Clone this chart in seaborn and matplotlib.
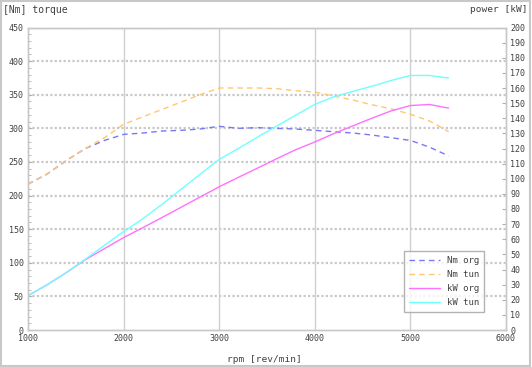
import numpy as np
import pandas as pd
import matplotlib
matplotlib.use("Agg")
import matplotlib.pyplot as plt
import seaborn as sns
from matplotlib.ticker import MultipleLocator

# Data (every 200 rpm)
rpm = [1000, 1200, 1400, 1600, 1800, 2000, 2200, 2400, 2600, 2800, 3000, 3200,
       3400, 3600, 3800, 4000, 4200, 4400, 4600, 4800, 5000, 5200, 5400]
nm_org = [217, 232, 252, 270, 282, 291, 293, 296, 297, 299, 303, 300,
          301, 300, 299, 297, 295, 293, 290, 286, 282, 272, 259]
nm_tun = [217, 232, 252, 270, 286, 306, 317, 328, 339, 350, 360, 360,
          360, 359, 356, 354, 348, 342, 335, 329, 321, 311, 295]
kw_org = [22.7, 29.9, 37.9, 46.5, 53.8, 61.1, 67.6, 74.3, 81.1, 87.9, 94.7, 100.9,
          107.0, 113.2, 119.2, 124.3, 129.9, 135.0, 140.1, 144.9, 148.4, 149.1, 146.7]
kw_tun = [22.7, 29.9, 38.0, 46.8, 56.0, 65.1, 73.5, 83.0, 93.0, 103.0, 112.8, 120.0,
          127.5, 134.8, 142.0, 149.2, 154.2, 157.8, 161.2, 165.0, 168.3, 168.3, 166.6]

labels = ["Nm org", "Nm tun", "kW org", "kW tun"]
colors = ["#7878f8", "#ffc870", "#ff70ff", "#70ffff"]

df = pd.DataFrame({"rpm": rpm, "nm_org": nm_org, "nm_tun": nm_tun,
                   "kw_org": kw_org, "kw_tun": kw_tun})

sns.set_style("white")
plt.rcParams["font.family"] = ["DejaVu Sans Mono"]

fig = plt.figure(figsize=(5.32, 3.67), dpi=100)
ax = fig.add_axes([28 / 532, 1 - 330 / 367, 478 / 532, 302.5 / 367])
ax2 = ax.twinx()

dash = (0, (4, 3))
sns.lineplot(data=df, x="rpm", y="nm_org", ax=ax, color=colors[0], lw=1,
             linestyle=dash, label=labels[0], legend=False)
sns.lineplot(data=df, x="rpm", y="nm_tun", ax=ax, color=colors[1], lw=1,
             linestyle=dash, label=labels[1], legend=False)
sns.lineplot(data=df, x="rpm", y="kw_org", ax=ax2, color=colors[2], lw=1,
             label=labels[2], legend=False)
sns.lineplot(data=df, x="rpm", y="kw_tun", ax=ax2, color=colors[3], lw=1,
             label=labels[3], legend=False)

ax.set_xlim(1000, 6000)
ax.set_ylim(0, 450)
ax2.set_ylim(0, 200)

ax.xaxis.set_major_locator(MultipleLocator(1000))
ax.xaxis.set_minor_locator(MultipleLocator(200))
ax.yaxis.set_major_locator(MultipleLocator(50))
ax.yaxis.set_minor_locator(MultipleLocator(10))
ax2.yaxis.set_major_locator(MultipleLocator(10))

txt = "#404040"
ax.tick_params(axis="both", which="both", direction="in", colors="#b0b0b0",
               labelcolor=txt, labelsize=6)
ax.tick_params(axis="both", which="major", length=3, pad=3)
ax.tick_params(axis="both", which="minor", length=2)
ax2.tick_params(axis="y", direction="in", length=3, colors="#b0b0b0",
                labelcolor=txt, labelsize=6, pad=3)

ax.set_xlabel("")
ax.set_ylabel("")
ax2.set_ylabel("")

# grid: dotted horizontals, solid verticals
ax.grid(False)
ax2.grid(False)
for v in range(50, 451, 50):
    ax.axhline(v, color="#c8c8c8", lw=1.6, ls=(0, (1, 1)), zorder=0)
for v in range(2000, 6000, 1000):
    ax.axvline(v, color="#d0d0d0", lw=1.0, zorder=0)

for a in (ax, ax2):
    for s in a.spines.values():
        s.set_color("#c8c8c8")
        s.set_linestyle((0, (1, 1)))
        s.set_linewidth(1.0)

handles = ax.get_lines()[:2] + ax2.get_lines()[:2]
leg = ax2.legend(handles=handles, labels=labels, loc="lower left",
                 bbox_to_anchor=(0.787, 0.06), fontsize=6.5, frameon=True,
                 fancybox=False, handlelength=3.4, handletextpad=0.8,
                 borderpad=0.55, labelspacing=0.55, borderaxespad=0)
leg.get_frame().set_edgecolor("#a0a0a0")
leg.get_frame().set_linewidth(1.0)
for t in leg.get_texts():
    t.set_color(txt)

fig.text(3 / 532, 1 - 10 / 367, "[Nm] torque", fontsize=7, color=txt,
         ha="left", va="center")
fig.text(528 / 532, 1 - 10 / 367, "power [kW]", fontsize=6.8, color=txt,
         ha="right", va="center")
fig.text(264 / 532, 1 - 359 / 367, "rpm [rev/min]", fontsize=6.8, color=txt,
         ha="center", va="center")

fig.add_artist(plt.Rectangle((0.002, 0.003), 0.995, 0.993,
                             transform=fig.transFigure, fill=False,
                             ec="#c8c8c8", lw=1.5))

fig.savefig("out.png", dpi=100)
